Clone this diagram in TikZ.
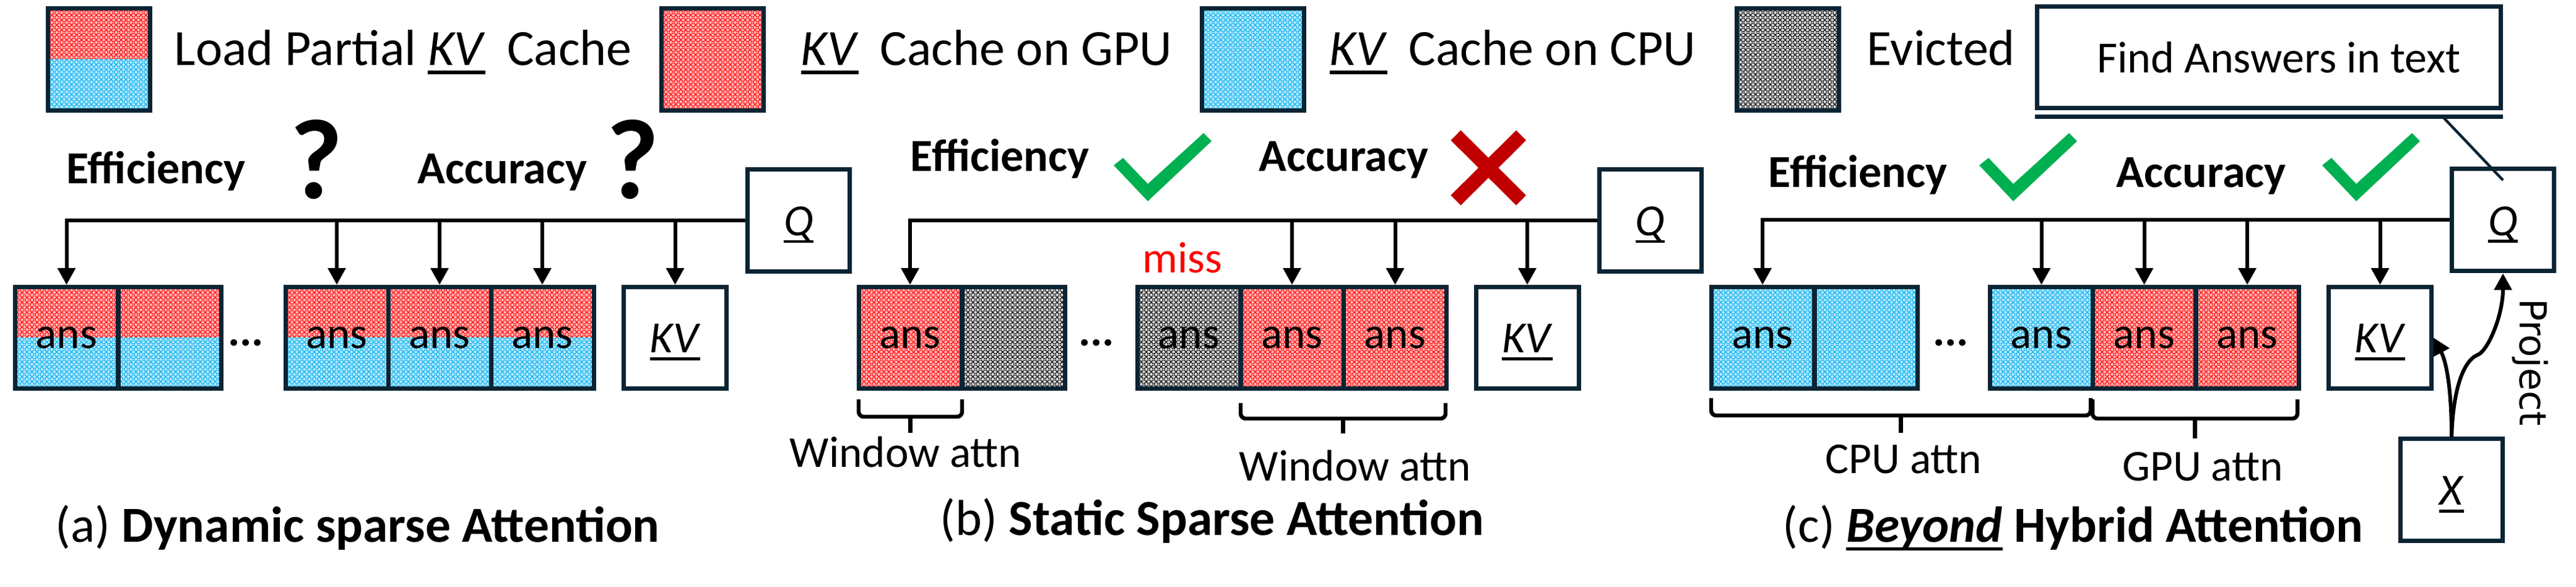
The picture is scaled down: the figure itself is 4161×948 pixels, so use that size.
\documentclass[tikz,border=0pt]{standalone}
\usepackage{fontspec}
\setmainfont{Carlito}
\newfontfamily\djv{DejaVu Sans}
\usetikzlibrary{arrows.meta,patterns.meta,calc}
\definecolor{navy}{HTML}{0B2434}
\definecolor{cpub}{HTML}{00B0F0}
\definecolor{gpur}{HTML}{FF0000}
\definecolor{ckg}{HTML}{00B050}
\definecolor{xred}{HTML}{C00000}
\newcommand\fsz[1]{\fontsize{#1}{#1}\selectfont}
\newbox\ulbox
\newcommand\ulx[1]{\leavevmode\setbox\ulbox=\hbox{#1}\rlap{\rule[-0.165em]{\wd\ulbox}{0.065em}}\box\ulbox}
\newcommand\vtx[1]{\raisebox{-1.8pt}[\height][\depth]{\ulx{\textit{#1}}}}
\tikzdeclarepattern{
  name=chk, type=uncolored,
  bottom left={(0pt,0pt)}, top right={(2pt,2pt)}, tile size={(2pt,2pt)},
  code={
    \fill (0pt,0pt) rectangle (0.5pt,0.5pt);
    \fill (0.5pt,0.5pt) rectangle (1pt,1pt);
    \fill (1pt,1pt) rectangle (1.5pt,1.5pt);
    \fill (1.5pt,1.5pt) rectangle (2pt,2pt);
    \fill (1.5pt,0pt) rectangle (2pt,0.5pt);
    \fill (1pt,0.5pt) rectangle (1.5pt,1pt);
    \fill (0.5pt,1pt) rectangle (1pt,1.5pt);
    \fill (0pt,1.5pt) rectangle (0.5pt,2pt);
  }
}
\tikzset{
  cellbox/.style={draw=navy, line width=1.75pt, minimum width=41.5pt, minimum height=41pt, inner sep=0pt, font=\fsz{17.8pt}},
  gpuc/.style={cellbox, preaction={fill=gpur!28}, pattern=chk, pattern color=gpur},
  cpuc/.style={cellbox, preaction={fill=cpub!28}, pattern=chk, pattern color=cpub},
  evc/.style={cellbox, preaction={fill=black!15}, pattern=chk, pattern color=black},
  halffill/.style={path picture={
    \fill[gpur!28] (path picture bounding box.north west) rectangle (path picture bounding box.east);
    \fill[pattern=chk, pattern color=gpur] (path picture bounding box.north west) rectangle (path picture bounding box.east);
    \fill[cpub!28] (path picture bounding box.west) rectangle (path picture bounding box.south east);
    \fill[pattern=chk, pattern color=cpub] (path picture bounding box.west) rectangle (path picture bounding box.south east);}},
  halfc/.style={cellbox, halffill},
  plainc/.style={cellbox, fill=white, font=\fsz{18pt}},
  sqbox/.style={draw=navy, line width=1.75pt, minimum width=41.25pt, minimum height=41.25pt, inner sep=0pt, font=\fsz{18pt}},
  arr/.style={-{Triangle[length=6.75pt,width=7pt]}, line width=1.5pt, black},
  lbl/.style={inner sep=0pt, anchor=base west, font=\fsz{18.5pt}\bfseries},
  leg/.style={inner sep=0pt, anchor=base west, font=\fsz{20.5pt}},
  qmark/.style={inner sep=0pt, anchor=base, font=\fsz{46pt}\bfseries},
  dots/.style={inner sep=0pt, anchor=base, font=\fsz{18pt}\bfseries},
  small/.style={inner sep=0pt, anchor=base, font=\fsz{17.8pt}},
  capt/.style={inner sep=0pt, anchor=base west, font=\fsz{20.4pt}},
  brc/.style={line width=1.6pt, rounded corners=2pt, black},
}
\newcommand\checkmk[2]{\fill[ckg, shift={(#1,#2)}] (0,52) -- (55,110) -- (158,13) -- (145,0) -- (55,82) -- (15,40) -- cycle;}
\newcommand\brce[5]{\draw[brc] (#1,#3) -- (#1,#4) -- (#2,#4) -- (#2,#3); \draw[brc] ({(#1+#2)/2},#4) -- ({(#1+#2)/2},#5);}
\begin{document}
\begin{tikzpicture}[x=0.25pt, y=-0.25pt]
\useasboundingbox[fill=white] (0,0) rectangle (4161,948);

% ---------- legend ----------
\node[sqbox, halffill] (L1) at (160,96) {};
\node[leg] (L1t) at (281,106) {Load Partial \ulx{\textit{KV}}\hspace{0.2em} Cache};
\node[sqbox, preaction={fill=gpur!28}, pattern=chk, pattern color=gpur] (L2) at (1151,96) {};
\node[leg] (L2t) at (1293,106) {\ulx{\textit{KV}}\hspace{0.2em} Cache on GPU};
\node[sqbox, preaction={fill=cpub!28}, pattern=chk, pattern color=cpub] (L3) at (2024,96) {};
\node[leg] (L3t) at (2147,106) {\ulx{\textit{KV}}\hspace{0.2em} Cache on CPU};
\node[sqbox, preaction={fill=black!15}, pattern=chk, pattern color=black] (L4) at (2887.5,96) {};
\node[leg] (L4t) at (3015,106) {Evicted};
\node[draw=navy, line width=1.75pt, minimum width=187.25pt, minimum height=41pt, inner sep=0pt, font=\fsz{18pt}] (fa) at (3665,92.5) {\hspace{8pt}Find Answers in text};
\draw[navy, line width=1.75pt] (3287,189) -- (4043,189);

% ---------- panel (a) ----------
\node[lbl] (effa) at (107,297) {Efficiency};
\node[qmark] (qma) at (511,321) {?};
\node[lbl] (acca) at (674,297) {Accuracy};
\node[qmark] (qmb) at (1022,321) {?};
\node[sqbox] (Qa) at (1290,356) {\vtx{Q}};
\node[halfc] (a11) at (107.5,545.5) {ans};
\node[halfc] (a12) at (274,545.5) {};
\node[dots] (da) at (397,559) {...};
\node[halfc] (a21) at (544,545.5) {ans};
\node[halfc] (a22) at (710,545.5) {ans};
\node[halfc] (a23) at (876,545.5) {ans};
\node[plainc] (KVa) at (1090.5,545.5) {\vtx{KV}};
\draw[arr] (Qa.west) -| (a11.north);
\draw[arr] (Qa.west -| a21.north) -- (a21.north);
\draw[arr] (Qa.west -| a22.north) -- (a22.north);
\draw[arr] (Qa.west -| a23.north) -- (a23.north);
\draw[arr] (Qa.west -| KVa.north) -- (KVa.north);
\node[capt] (capa) at (89,876) {(a) \textbf{Dynamic sparse Attention}};

% ---------- panel (b) ----------
\node[lbl] (effb) at (1470,277) {Efficiency};
\checkmk{1799}{215}
\node[lbl] (accb) at (2033,277) {Accuracy};
\draw[xred, line width=5.7pt] (2351.5,218.5) -- (2457,323.5);
\draw[xred, line width=5.7pt] (2457,218.5) -- (2351.5,323.5);
\node[sqbox] (Qb) at (2665.5,356) {\vtx{Q}};
\node[gpuc] (b11) at (1470,545.5) {ans};
\node[evc] (b12) at (1637,545.5) {};
\node[dots] (db) at (1771,559) {...};
\node[evc] (b21) at (1920.5,545.5) {ans};
\node[gpuc] (b22) at (2087,545.5) {ans};
\node[gpuc] (b23) at (2253.5,545.5) {ans};
\node[plainc] (KVb) at (2467,545.5) {\vtx{KV}};
\node[small, text=gpur] (miss) at (1910,441) {miss};
\draw[arr] (Qb.west) -| (b11.north);
\draw[arr] (Qb.west -| b22.north) -- (b22.north);
\draw[arr] (Qb.west -| b23.north) -- (b23.north);
\draw[arr] (Qb.west -| KVb.north) -- (KVb.north);
\brce{1387}{1554}{645}{673}{699}
\brce{2004}{2335}{651}{676}{700}
\node[small] (wa1) at (1463,755) {Window attn};
\node[small] (wa2) at (2189,777) {Window attn};
\node[capt] (capb) at (1518,865) {(b) \textbf{Static Sparse Attention}};

% ---------- panel (c) ----------
\node[lbl] (effc) at (2856,303) {Efficiency};
\checkmk{3197}{215}
\node[lbl] (accc) at (3418,303) {Accuracy};
\checkmk{3751}{215}
\node[sqbox] (Qc) at (4043,355.5) {\vtx{Q}};
\node[cpuc] (c11) at (2847,545.5) {ans};
\node[cpuc] (c12) at (3014,545.5) {};
\node[dots] (dc) at (3151,559) {...};
\node[cpuc] (c21) at (3297.5,545.5) {ans};
\node[gpuc] (c22) at (3463.5,545.5) {ans};
\node[gpuc] (c23) at (3630,545.5) {ans};
\node[plainc] (KVc) at (3844.5,545.5) {\vtx{KV}};
\node[sqbox] (Xc) at (3960,791.5) {\vtx{X}};
\draw[arr] (Qc.west) -| (c11.north);
\draw[arr] (Qc.west -| c21.north) -- (c21.north);
\draw[arr] (Qc.west -| c22.north) -- (c22.north);
\draw[arr] (Qc.west -| c23.north) -- (c23.north);
\draw[arr] (Qc.west -| KVc.north) -- (KVc.north);
\draw[arr] (Xc.north) .. controls (3960,630) and (3952,585) .. (KVc.east);
\draw[arr] (Xc.north) .. controls (3962,640) and (3975,585) .. (4002,573) .. controls (4018,568) and (4043,510) .. (Qc.south);
\node[inner sep=0pt, rotate=-90, font=\djv\fsz{15pt}] (proj) at (4087,585) {Project};
\coordinate (barpt) at (3947,190);
\coordinate (qpt) at (4043,291);
\draw[navy, line width=1.1pt] (barpt) -- (qpt);
\brce{2764}{3377}{643}{671}{699}
\brce{3380}{3711}{645}{676}{708}
\node[small] (cpua) at (3075,765) {CPU attn};
\node[small] (gpua) at (3558,777) {GPU attn};
\node[capt] (capc) at (2879,876) {(c) \textbf{\ulx{\textit{Beyond}} Hybrid Attention}};
\end{tikzpicture}
\end{document}
